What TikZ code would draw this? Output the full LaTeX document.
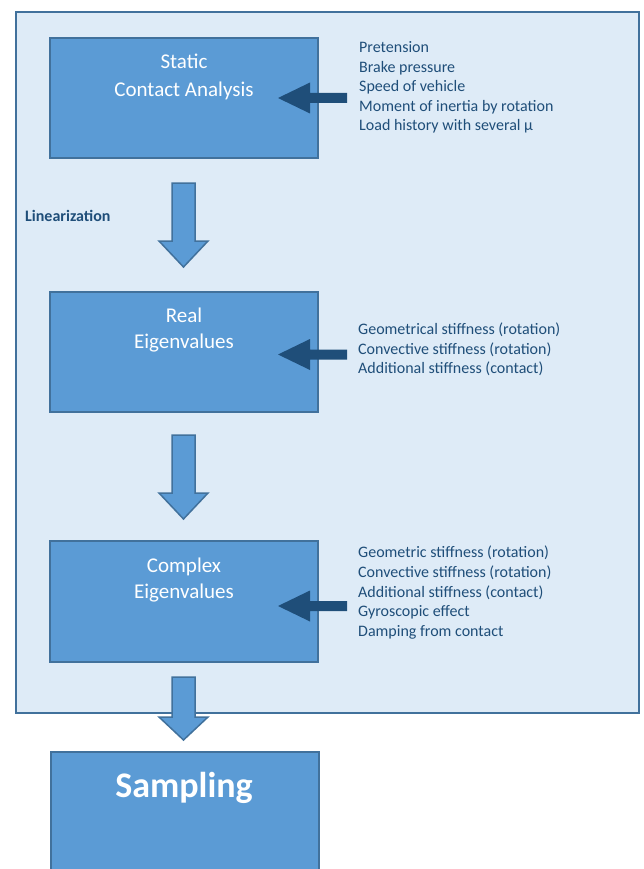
\documentclass[tikz,border=0pt]{standalone}
\usepackage{fontspec}
\setmainfont{Carlito}
\definecolor{outerfill}{HTML}{DEEBF7}
\definecolor{edgeblue}{HTML}{41719C}
\definecolor{boxfill}{HTML}{5B9BD5}
\definecolor{navy}{HTML}{1F4E79}
\newcommand\DownBlock[3]{% top, base, tip
  \filldraw[fill=boxfill,draw=edgeblue,line width=1.5pt,line join=miter]
    (172,#1) -- (195,#1) -- (195,#2) -- (208,#2) -- (183.5,#3) -- (159,#2) -- (172,#2) -- cycle;}
\newcommand\LeftBlock[1]{% centre y
  \fill[navy] (347,#1-5) -- (310,#1-5) -- (310,#1-15.5) -- (278,#1) -- (310,#1+15.5) -- (310,#1+5) -- (347,#1+5) -- cycle;}
\begin{document}
\begin{tikzpicture}[x=1pt,y=-1pt,
  stagebox/.style={draw=edgeblue,fill=boxfill,line width=1.5pt,inner sep=0pt,minimum width=268pt},
  titletext/.style={text=white,font=\fontsize{21}{28}\selectfont,anchor=base,inner sep=0pt},
  listtext/.style={text=navy,font=\fontsize{16}{19.6}\selectfont,anchor=base west,inner sep=0pt}]
\path[use as bounding box] (0,0) rectangle (644,869);
\clip (0,0) rectangle (644,869);
% outer frame
\node[draw=edgeblue,fill=outerfill,line width=1.5pt,inner sep=0pt,minimum width=623pt,minimum height=701pt] (frame) at (327.5,362.5) {};
% stage boxes
\node[stagebox,minimum height=120pt] (s1) at (184,98) {};
\node[stagebox,minimum height=120pt] (s2) at (184,352) {};
\node[stagebox,minimum height=121pt] (s3) at (184,601.5) {};
\node[stagebox,minimum height=150pt] (s4) at (185,827) {};
% titles
\node[titletext] (t1a) at (184,69) {Static};
\node[titletext] (t1b) at (184,97) {Contact Analysis};
\node[titletext] (t2a) at (184,322.5) {Real};
\node[titletext] (t2b) at (184,348.5) {Eigenvalues};
\node[titletext] (t3a) at (184,572.5) {Complex};
\node[titletext] (t3b) at (184,598.5) {Eigenvalues};
\node[text=white,font=\fontsize{36}{40}\selectfont\bfseries,anchor=base,inner sep=0pt] (t4) at (184,797) {Sampling};
% linearization label
\node[text=navy,font=\fontsize{16}{19}\selectfont\bfseries,anchor=base west,inner sep=0pt] (lin) at (25,221) {Linearization};
% input lists
\node[listtext] (a1) at (359,53) {Pretension};
\node[listtext] (a2) at (359,72.5) {Brake pressure};
\node[listtext] (a3) at (359,92) {Speed of vehicle};
\node[listtext] (a4) at (359,111.5) {Moment of inertia by rotation};
\node[listtext] (a5) at (359,131) {Load history with several µ};
\node[listtext] (b1) at (358,334) {Geometrical stiffness (rotation)};
\node[listtext] (b2) at (358,354) {Convective stiffness (rotation)};
\node[listtext] (b3) at (358,373) {Additional stiffness (contact)};
\node[listtext] (c1) at (358,557) {Geometric stiffness (rotation)};
\node[listtext] (c2) at (358,577) {Convective stiffness (rotation)};
\node[listtext] (c3) at (358,597) {Additional stiffness (contact)};
\node[listtext] (c4) at (358,616) {Gyroscopic effect};
\node[listtext] (c5) at (358,636) {Damping from contact};
% input arrows
\LeftBlock{98}
\LeftBlock{354.5}
\LeftBlock{606}
% flow arrows
\DownBlock{183}{241}{267}
\DownBlock{435}{493}{519}
\DownBlock{677}{717}{740}
\end{tikzpicture}
\end{document}
